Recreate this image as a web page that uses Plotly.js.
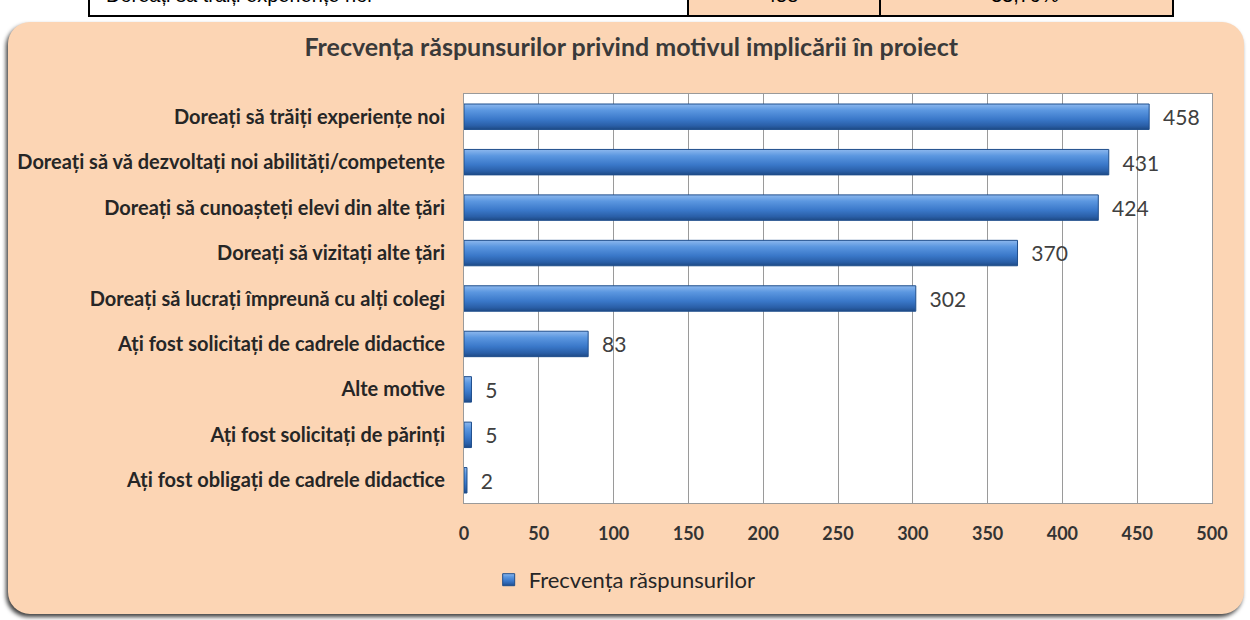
<!DOCTYPE html>
<html><head><meta charset="utf-8">
<script src="https://cdn.plot.ly/plotly-3.0.1.min.js"></script>
<style>
html,body{margin:0;padding:0;background:#fff;width:1250px;height:620px;overflow:hidden;}
#tbl{position:absolute;left:88px;top:-12px;width:1082px;height:27px;border:2px solid #000;border-top:none;overflow:hidden;background:#fff;font-family:"Liberation Sans",Arial,sans-serif;font-size:20px;}
#tbl .c{position:absolute;top:0;height:27px;}
#box{position:absolute;left:8px;top:22px;width:1236px;height:592px;background:#FCD5B4;border-radius:22px;box-shadow:-2px 3px 4px rgba(0,0,0,0.75);}
#chart{position:absolute;left:0;top:0;width:1250px;height:620px;}
</style></head>
<body>
<div id="tbl">
  <div class="c" style="left:0;width:597px;"><span style="position:absolute;left:16px;top:-4px;">Doreați să trăiți experiențe noi</span></div>
  <div class="c" style="left:597px;width:190px;background:#FCD5B4;border-left:2px solid #000;"><span style="position:absolute;left:76px;top:-4px;">458</span></div>
  <div class="c" style="left:789px;width:293px;background:#FCD5B4;border-left:2px solid #000;"><span style="position:absolute;left:110px;top:-4px;">33,79%</span></div>
</div>
<div id="box"></div>
<div id="chart"></div>
<script>
const categories = [
  "Doreați să trăiți experiențe noi",
  "Doreați să vă dezvoltați noi abilități/competențe",
  "Doreați să cunoașteți elevi din alte țări",
  "Doreați să vizitați alte țări",
  "Doreați să lucrați împreună cu alți colegi",
  "Ați fost solicitați de cadrele didactice",
  "Alte motive",
  "Ați fost solicitați de părinți",
  "Ați fost obligați de cadrele didactice"
];
const values = [458, 431, 424, 370, 302, 83, 5, 5, 2];
const seriesName = "Frecvența răspunsurilor";
const chartTitle = "Frecvența răspunsurilor privind motivul implicării în proiect";
const xTicks = [0, 50, 100, 150, 200, 250, 300, 350, 400, 450, 500];

const trace = {
  type: 'bar', orientation: 'h',
  x: values, y: categories, name: seriesName,
  marker: {color: '#3A78C9', line: {color: '#1F4E8C', width: 1}},
  text: values.map(String),
  texttemplate: '\u00a0\u00a0%{text}',
  textposition: 'outside', cliponaxis: false,
  textfont: {family: 'Lato, sans-serif', size: 24, color: '#404040'},
  showlegend: true, hoverinfo: 'none'
};
const layout = {
  width: 1250, height: 620,
  margin: {l: 464, r: 38, t: 94, b: 117},
  paper_bgcolor: 'rgba(0,0,0,0)', plot_bgcolor: '#ffffff',
  bargap: 0.44,
  font: {family: 'Lato, sans-serif', color: '#1a1a1a'},
  title: {text: '<b>' + chartTitle + '</b>', xref: 'container', x: 0.505, yref: 'container', y: 0.924, yanchor: 'middle',
          font: {family: 'Lato, sans-serif', size: 25, color: '#3a3a3a'}},
  xaxis: {range: [0, 500], tickvals: xTicks, ticktext: xTicks.map(v => '<b>' + v + '</b>'),
          showgrid: true, gridcolor: '#9a9a9a', gridwidth: 1, zeroline: false,
          showline: true, linecolor: '#9a9a9a', mirror: true,
          ticks: 'outside', ticklen: 14, tickcolor: 'rgba(0,0,0,0)',
          tickfont: {family: 'Lato, sans-serif', size: 18, color: '#333'}, fixedrange: true},
  yaxis: {categoryorder: 'array', categoryarray: categories, autorange: 'reversed',
          tickvals: categories, ticktext: categories.map(c => '<b>' + c + '</b>'),
          showline: true, linecolor: '#9a9a9a', mirror: true, showgrid: false,
          ticks: 'outside', ticklen: 14, tickcolor: 'rgba(0,0,0,0)',
          tickfont: {family: 'Lato, sans-serif', size: 20, color: '#262626'}, fixedrange: true},
  legend: {orientation: 'h', x: 0.033, xanchor: 'left', y: -0.188, yanchor: 'middle',
           font: {family: 'Lato, sans-serif', size: 22, color: '#262626'}, bgcolor: 'rgba(0,0,0,0)'},
  showlegend: true
};
Plotly.newPlot('chart', [trace], layout, {displayModeBar: false, staticPlot: true}).then(gd => {
  const svg = gd.querySelector('svg.main-svg');
  const ns = 'http://www.w3.org/2000/svg';
  let defs = svg.querySelector('defs');
  if (!defs) { defs = document.createElementNS(ns, 'defs'); svg.insertBefore(defs, svg.firstChild); }
  const g = document.createElementNS(ns, 'linearGradient');
  g.setAttribute('id', 'barGrad'); g.setAttribute('x1', '0'); g.setAttribute('y1', '0'); g.setAttribute('x2', '0'); g.setAttribute('y2', '1');
  [['0', '#8DB8EE'], ['0.25', '#5B97E0'], ['0.6', '#3A78C9'], ['0.85', '#2A5FA8'], ['1', '#1E4A85']].forEach(([o, c]) => {
    const s = document.createElementNS(ns, 'stop'); s.setAttribute('offset', o); s.setAttribute('stop-color', c); g.appendChild(s);
  });
  defs.appendChild(g);
  gd.querySelectorAll('.bars path, .legendpoints path').forEach(p => { p.style.fill = 'url(#barGrad)'; });
});
</script>
</body></html>
